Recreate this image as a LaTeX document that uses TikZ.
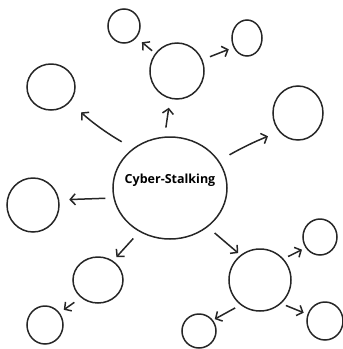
\documentclass[tikz,border=0pt]{standalone}
\usepackage{fontspec}
\setmainfont{Open Sans}
\usetikzlibrary{shapes.geometric,arrows.meta}
\tikzset{
	bubble/.style={draw, ellipse, line width=1.5pt, inner sep=0pt, color=black!85},
	arr/.style={line width=1.5pt, color=black!85, -{Straight Barb[length=5pt,width=11pt]}}
}
\begin{document}
		\begin{tikzpicture}[x=1pt,y=-1pt]
			\useasboundingbox (0,0) rectangle (343,349);
			\node [bubble, minimum width=114pt, minimum height=102pt] (hub) at (170,188) {};
			\node [font=\bfseries\fontsize{12.5}{14}\selectfont] (title) at (170,180) {Cyber-Stalking};
			\node [bubble, minimum width=54pt, minimum height=56pt] (top) at (177,71) {};
			\node [bubble, minimum width=32pt, minimum height=34pt] (topl) at (124,26) {};
			\node [bubble, minimum width=30pt, minimum height=36pt] (topr) at (247,38) {};
			\node [bubble, minimum width=48pt, minimum height=46pt] (upl) at (51,87) {};
			\node [bubble, minimum width=50pt, minimum height=54pt] (upr) at (298,113) {};
			\node [bubble, minimum width=52pt, minimum height=54pt] (midl) at (33,205) {};
			\node [bubble, minimum width=50pt, minimum height=46pt] (lowl) at (98,280) {};
			\node [bubble, minimum width=36pt, minimum height=38pt] (botl) at (45,325) {};
			\node [bubble, minimum width=62pt, minimum height=62pt] (lowr) at (260,280) {};
			\node [bubble, minimum width=34pt, minimum height=36pt] (sider) at (320,237) {};
			\node [bubble, minimum width=36pt, minimum height=38pt] (botr) at (325,321) {};
			\node [bubble, minimum width=34pt, minimum height=34pt] (botm) at (199,331) {};
			\draw [arr, shorten <=9pt, shorten >=9pt] (hub.96) -- (top.256);
			\draw [arr, shorten <=13pt, shorten >=15pt] (hub.133) to[bend left=6] (upl.321);
			\draw [arr, shorten <=12pt, shorten >=12pt] (hub.29) to[bend left=4] (upr.225);
			\draw [arr, shorten <=8pt, shorten >=10pt] (hub.190) -- (midl.11);
			\draw [arr, shorten <=9pt, shorten >=5pt] (hub.235) -- (lowl.52);
			\draw [arr, shorten <=9pt, shorten >=3pt] (hub.314) -- (lowr.128);
			\draw [arr, shorten <=4pt, shorten >=7pt] (top.141) -- (topl.317);
			\draw [arr, shorten <=8pt, shorten >=5pt] (top.24) -- (topr.215);
			\draw [arr, shorten <=8pt, shorten >=5pt] (lowl.226) -- (botl.40);
			\draw [arr, shorten <=5pt, shorten >=4pt] (lowr.42) -- (sider.217);
			\draw [arr, shorten <=5pt, shorten >=4pt] (lowr.312) -- (botr.159);
			\draw [arr, shorten <=6pt, shorten >=2pt] (lowr.232) -- (botm.38);
		\end{tikzpicture}
\end{document}
